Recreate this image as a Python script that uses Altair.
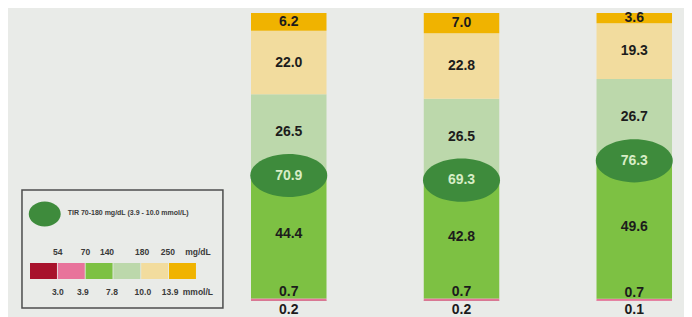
import altair as alt
import pandas as pd

# ---------------- data ----------------
groups = ["A", "B", "C"]
segments = ["<54", "54-69", "70-140", "141-180", "181-250", ">250"]
seg_colors = ["#a8122c", "#e8739b", "#7dc143", "#bcd8ab", "#f2dc9e", "#f0b300"]
values_a = [0.2, 0.7, 44.4, 26.5, 22.0, 6.2]
values_b = [0.2, 0.7, 42.8, 26.5, 22.8, 7.0]
values_c = [0.1, 0.7, 49.6, 26.7, 19.3, 3.6]
tir_values = [70.9, 69.3, 76.3]

legend_title = "TIR 70-180 mg/dL (3.9 - 10.0 mmol/L)"
mgdl_labels = ["54", "70", "140", "180", "250", "mg/dL"]
mgdl_pos = [1.0, 2.0, 2.77, 4.03, 4.96, 6.04]
mmol_labels = ["3.0", "3.9", "7.8", "10.0", "13.9", "mmol/L"]
mmol_pos = [1.0, 1.9, 2.95, 4.06, 5.04, 6.04]

# ---------------- tables ----------------
all_values = [values_a, values_b, values_c]
rows = []
for g, vals in zip(groups, all_values):
    for i, (s, v) in enumerate(zip(segments, vals)):
        rows.append({"group": g, "seg": s, "idx": i, "value": v, "label": f"{v:.1f}"})
bars_df = pd.DataFrame(rows)

tir_df = pd.DataFrame({
    "group": groups,
    "tir": tir_values,
    "label": [f"{t:.1f}" for t in tir_values],
    "edge": [sum(v[:3]) for v in all_values],
})

BG = "#e9ebe8"
FONT = "Liberation Sans"
NARROW = "Liberation Sans Narrow, Liberation Sans"
ELL_DARK = "#3e8b3c"

xs = alt.Scale(domain=groups, paddingInner=0.563, paddingOuter=0.738, align=0.953, round=False)
ys = alt.Scale(domain=[0, 100], nice=False, zero=True)
cs = alt.Scale(domain=segments, range=seg_colors)

X = alt.X("group:N", scale=xs, axis=None)

base = alt.Chart(bars_df).transform_stack(
    stack="value", groupby=["group"], sort=[alt.SortField("idx", order="ascending")], as_=["y0", "y1"]
).transform_calculate(mid="(datum.y0 + datum.y1) / 2")

bars = base.mark_bar(strokeWidth=0).encode(
    x=X,
    y=alt.Y("y0:Q", scale=ys, axis=None),
    y2="y1:Q",
    color=alt.Color("seg:N", scale=cs, legend=None),
)

txt = dict(font=FONT, fontSize=14, fontWeight="bold", color="#1c1c1c")

mid_labels = base.transform_filter("datum.idx >= 2").mark_text(baseline="middle", **txt).encode(
    x=X, y=alt.Y("mid:Q", scale=ys, axis=None), text="label:N"
)
pink_label = base.transform_filter("datum.idx == 1").mark_text(baseline="alphabetic", dy=-2, **txt).encode(
    x=X, y=alt.Y("y1:Q", scale=ys, axis=None), text="label:N"
)
red_label = base.transform_filter("datum.idx == 0").mark_text(baseline="middle", dy=9, **txt).encode(
    x=X, y=alt.Y("y0:Q", scale=ys, axis=None), text="label:N"
)

ELL_BAR = "M -1 0 A 1 0.56 0 1 0 1 0 A 1 0.56 0 1 0 -1 0 Z"
ell = alt.Chart(tir_df).mark_point(
    shape=ELL_BAR, size=77 * 77, filled=True, color=ELL_DARK, opacity=1, strokeWidth=0, yOffset=5
).encode(x=X, y=alt.Y("edge:Q", scale=ys, axis=None))
ell_text = alt.Chart(tir_df).mark_text(
    baseline="middle", dy=5, font=FONT, fontSize=14, fontWeight="bold", color="#d7edc6"
).encode(x=X, y=alt.Y("edge:Q", scale=ys, axis=None), text="label:N")

bar_layer = alt.layer(bars, mid_labels, pink_label, red_label, ell, ell_text)

# ---------------- legend ----------------
lxs = alt.Scale(domain=[-0.791, 23.525], nice=False, zero=False)
lys = alt.Scale(domain=[0, 28.8], nice=False, zero=False, reverse=True)

frame_df = pd.DataFrame({"x0": [-0.288], "x1": [6.94], "y0": [17.7], "y1": [29.5]})
frame = alt.Chart(frame_df).mark_rect(fill=BG, stroke="#4d4d4d", strokeWidth=1.5).encode(
    x=alt.X("x0:Q", scale=lxs, axis=None), x2="x1:Q",
    y=alt.Y("y0:Q", scale=lys, axis=None), y2="y1:Q",
)

ELL_LEG = "M -1 0 A 1 0.78 0 1 0 1 0 A 1 0.78 0 1 0 -1 0 Z"
lg_df = pd.DataFrame({"x": [0.53], "y": [20.1], "tx": [1.356], "ty": [19.97], "t": [legend_title]})
lg_ell = alt.Chart(lg_df).mark_point(
    shape=ELL_LEG, size=32 * 32, filled=True, color=ELL_DARK, opacity=1, strokeWidth=0
).encode(x=alt.X("x:Q", scale=lxs, axis=None), y=alt.Y("y:Q", scale=lys, axis=None))
lg_title = alt.Chart(lg_df).mark_text(
    align="left", baseline="middle", font=NARROW, fontSize=7, fontWeight="bold", color="#3a3a3a"
).encode(x=alt.X("tx:Q", scale=lxs, axis=None), y=alt.Y("ty:Q", scale=lys, axis=None), text="t:N")

box_df = pd.DataFrame({"seg": segments, "i": list(range(len(segments)))})
lg_boxes = alt.Chart(box_df).transform_calculate(
    x1="datum.i + 0.97", y0="25.0", y1="26.6"
).mark_rect(strokeWidth=0).encode(
    x=alt.X("i:Q", scale=lxs, axis=None), x2="x1:Q",
    y=alt.Y("y0:Q", scale=lys, axis=None), y2="y1:Q",
    color=alt.Color("seg:N", scale=cs, legend=None),
)

up_df = pd.DataFrame({"t": mgdl_labels, "x": mgdl_pos, "y": [23.9] * len(mgdl_labels)})
low_df = pd.DataFrame({"t": mmol_labels, "x": mmol_pos, "y": [27.9] * len(mmol_labels)})
small = dict(baseline="middle", font=NARROW, fontSize=8.5, fontWeight="bold", color="#3a3a3a")
lg_up = alt.Chart(up_df).mark_text(**small).encode(
    x=alt.X("x:Q", scale=lxs, axis=None), y=alt.Y("y:Q", scale=lys, axis=None), text="t:N"
)
lg_low = alt.Chart(low_df).mark_text(**small).encode(
    x=alt.X("x:Q", scale=lxs, axis=None), y=alt.Y("y:Q", scale=lys, axis=None), text="t:N"
)

legend_layer = alt.layer(frame, lg_ell, lg_title, lg_boxes, lg_up, lg_low)

chart = alt.layer(bar_layer, legend_layer).resolve_scale(
    x="independent", y="independent"
).properties(
    width=676, height=288,
    autosize=alt.AutoSizeParams(type="none"),
    padding={"left": 0, "top": 5, "right": 0, "bottom": 16},
    background=BG,
).configure_view(stroke=None)

chart.save("out.html", embed_options={"renderer": "svg", "actions": False})
